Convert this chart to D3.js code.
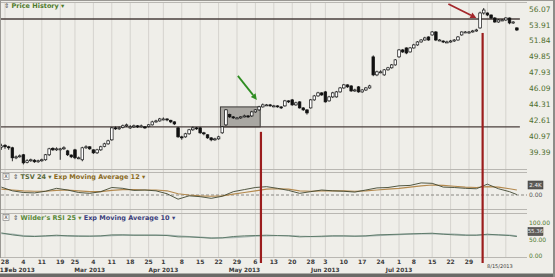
<!DOCTYPE html>
<html>
<head>
<meta charset="utf-8">
<script src="https://cdn.jsdelivr.net/npm/d3@7"></script>
<style>
  body { margin: 0; background: #fff; }
  svg { display: block; font-family: "DejaVu Sans", Verdana, sans-serif; }
</style>
</head>
<body>
<div id="chart"></div>
<script>
const W = 555, H = 277;

// trading calendar
const firstDay = new Date(2013, 0, 25), lastDay = new Date(2013, 7, 15);
const holidays = ["2013-02-18", "2013-03-29", "2013-05-27", "2013-07-04"];

// daily OHLC, Jan 25 .. Aug 15 2013
const open = [39.85,40.05,39.90,39.80,38.83,38.95,39.12,38.40,38.55,38.60,38.45,38.55,38.64,39.12,39.75,39.60,39.60,39.70,39.50,39.10,39.60,38.83,38.64,39.80,39.90,39.60,39.31,39.60,39.95,40.19,40.59,41.81,41.71,41.85,42.02,41.80,41.91,42.02,41.95,41.91,41.95,42.12,42.43,42.53,42.74,42.74,42.60,42.43,41.81,40.89,40.89,41.20,41.61,41.81,41.81,41.30,41.10,40.79,40.59,40.69,41.30,42.12,43.20,42.96,42.85,42.85,42.96,43.06,43.06,43.49,43.71,44.03,44.25,44.25,44.14,44.14,44.03,44.14,44.69,44.80,44.25,44.58,43.92,43.71,43.92,44.80,45.24,45.58,45.69,44.69,45.13,45.13,45.69,46.14,46.49,46.37,45.80,46.26,45.69,45.91,46.14,49.82,47.65,48.01,47.65,48.25,48.49,48.84,49.82,50.68,50.93,50.43,50.93,51.31,51.69,51.94,52.33,52.59,52.98,51.94,51.81,51.69,51.69,51.81,51.94,52.59,52.98,52.85,52.98,53.11,53.51,55.52,55.52,55.25,54.84,54.30,54.57,54.57,54.84,54.17,53.51];
const high = [40.20,40.15,40.00,39.90,39.05,39.15,39.20,38.70,38.75,38.70,38.65,38.75,39.20,39.80,39.85,39.85,39.80,39.95,39.60,39.15,39.70,38.95,39.90,40.05,39.95,39.65,39.70,40.00,40.30,40.60,41.90,41.95,41.95,42.15,42.25,42.10,42.15,42.10,42.15,42.00,42.20,42.55,42.65,42.85,42.90,42.80,42.65,42.50,41.90,41.00,41.30,41.70,41.95,41.90,41.90,41.40,41.15,40.85,40.80,41.00,42.00,43.80,43.30,43.05,42.95,43.05,43.20,43.15,43.60,43.80,44.15,44.40,44.35,44.35,44.25,44.20,44.10,44.80,44.75,44.90,44.60,44.65,44.00,43.75,44.90,45.35,45.70,45.65,45.80,45.25,45.70,45.80,46.25,46.60,46.55,46.45,46.05,46.35,46.00,46.25,46.50,50.00,48.15,48.20,48.35,48.60,48.95,49.55,50.80,50.80,51.00,51.05,51.45,51.80,52.05,52.35,52.40,53.10,53.10,52.05,51.90,51.85,51.95,52.05,52.45,53.05,53.10,53.10,53.25,53.40,55.70,56.21,55.60,55.30,54.95,54.70,54.70,54.95,54.90,54.40,53.60];
const low = [39.60,39.70,39.60,38.50,38.70,38.85,38.20,38.30,38.45,38.35,38.35,38.45,38.55,39.00,39.50,39.50,38.64,39.60,39.00,38.80,38.70,38.70,38.50,39.70,39.60,39.20,39.20,39.50,39.85,40.10,40.50,41.60,41.60,41.75,41.90,41.70,41.80,41.80,41.85,41.70,41.85,42.05,42.35,42.45,42.60,42.50,42.30,42.10,40.80,40.60,40.80,41.10,41.50,41.60,41.20,41.05,40.70,40.45,40.50,40.60,41.20,42.00,42.85,42.75,42.75,42.75,42.90,42.85,42.95,43.40,43.60,43.95,44.15,44.05,44.00,43.95,43.80,44.05,44.45,44.15,44.15,43.85,43.60,43.20,43.85,44.70,45.15,45.25,44.50,44.60,45.00,45.05,45.60,46.05,46.15,45.70,45.70,45.60,45.60,45.80,46.05,47.50,47.50,47.85,47.55,48.15,48.40,48.75,49.70,50.30,50.15,50.35,50.85,51.20,51.60,51.85,51.85,52.50,51.80,51.80,51.55,51.55,51.60,51.70,51.85,52.50,52.85,52.75,52.90,53.00,53.40,55.30,55.10,54.70,54.20,54.20,54.45,54.45,54.00,54.05,53.10];
const close = [39.99,39.90,39.80,38.83,38.92,39.02,38.35,38.55,38.64,38.45,38.55,38.64,39.12,39.70,39.60,39.70,39.70,39.80,39.12,38.92,38.83,38.83,39.80,39.90,39.70,39.31,39.60,39.90,40.19,40.49,41.81,41.71,41.81,42.02,42.12,41.91,42.02,41.91,42.02,41.81,42.12,42.43,42.53,42.74,42.74,42.64,42.43,42.22,40.89,40.79,41.20,41.61,41.81,41.71,41.30,41.20,40.79,40.59,40.69,40.89,41.91,43.71,42.96,42.85,42.85,42.96,43.06,42.96,43.49,43.71,44.03,44.25,44.25,44.14,44.14,44.03,43.92,44.69,44.58,44.25,44.47,43.92,43.71,43.38,44.80,45.24,45.58,45.35,44.58,45.13,45.58,45.69,46.14,46.49,46.26,45.80,45.91,45.69,45.91,46.14,46.37,47.65,48.01,48.01,48.25,48.49,48.84,49.45,50.68,50.43,50.30,50.93,51.31,51.69,51.94,52.20,51.94,52.98,51.94,51.94,51.69,51.69,51.81,51.94,52.33,52.98,52.98,52.98,53.11,53.24,55.52,55.93,55.25,54.84,54.30,54.57,54.57,54.84,54.17,54.30,53.24];

const priceTicks = [56.07, 53.91, 51.84, 49.85, 47.93, 46.09, 44.31, 42.61, 40.97, 39.39];
const levels = [54.71, 41.91];

// indicators, sampled every 3rd trading day (last point = Aug 15)
const tsv    = [1.9,1.0,0.6,0.5,0.9,1.6,1.2,0.6,0.4,0.8,1.8,1.6,1.1,1.2,1.0,0.3,-1.0,-0.2,-0.4,-0.8,-0.3,0.8,1.3,1.8,2.0,1.6,1.1,0.4,0.8,1.2,1.0,0.9,0.7,1.2,1.7,1.8,2.2,2.3,2.9,2.8,1.9,1.8,1.6,1.5,2.6,1.5,0.8,0.1];
const tsvEma = [1.4,1.2,1.0,0.9,0.9,1.1,1.2,1.0,0.8,0.8,1.1,1.3,1.3,1.2,1.2,1.0,0.3,0.0,-0.2,-0.3,-0.2,0.2,0.6,1.0,1.4,1.5,1.4,1.0,0.9,1.0,1.0,1.0,0.9,1.0,1.2,1.4,1.6,1.9,2.2,2.4,2.3,2.1,1.9,1.8,2.0,1.9,1.5,1.2];
const rsi    = [70,64,60,59,61,63,61,60,60,61,64,64,63,63,63,62,58,58,56,54,55,59,61,62,63,62,61,58,59,60,61,61,60,61,64,65,66,67,68,69,66,64,63,63,66,64,62,59];
const rsiEma = [68,66,62,60,60,61,62,61,60,60,62,63,63,63,63,63,61,59,57,55,55,56,58,60,61,62,62,60,59,59,60,60,60,60,62,63,65,66,67,68,67,66,64,63,64,64,63,61];
const rsiTicks = [100, 50, 0];

const fmtISO = d3.timeFormat("%Y-%m-%d");
const days = d3.timeDay.range(firstDay, d3.timeDay.offset(lastDay, 1))
  .filter(d => d.getDay() % 6 !== 0 && !holidays.includes(fmtISO(d)));
const bars = days.map((d, i) => ({ i, d, o: open[i], h: high[i], l: low[i], c: close[i] }));
const last = days.length - 1;
const sampleIdx = d3.range(0, days.length, 3).concat([last]);

const weekTicks = d3.range(1, days.length).filter(i => +d3.timeMonday.floor(days[i]) !== +d3.timeMonday.floor(days[i - 1]));
const monthTicks = d3.range(1, days.length).filter(i => days[i].getMonth() !== days[i - 1].getMonth());

const plotL = 1, plotR = 527;
const pane = { price: [2, 169], tsv: [172, 209], rsi: [213, 257] };

const x = d3.scaleLinear().domain([1, 127]).range([5, 469]);
const y = d3.scaleLog().domain([39.39, 56.07]).range([152, 9]);
const yT = d3.scaleLinear().domain([0, 2.4]).range([195, 185]);
const yR = d3.scaleLinear().domain([0, 100]).range([256, 223]);

const svg = d3.select("#chart").append("svg").attr("width", W).attr("height", H);
svg.append("rect").attr("width", W).attr("height", H).attr("fill", "#efeee9");

const defs = svg.append("defs");
Object.entries(pane).forEach(([k, [t, b]]) => {
  defs.append("clipPath").attr("id", "clip-" + k)
    .append("rect").attr("x", plotL).attr("y", t).attr("width", plotR - plotL).attr("height", b - t);
});

// vertical grid
svg.append("g").selectAll("line").data(weekTicks).join("line")
  .attr("x1", d => x(d)).attr("x2", d => x(d)).attr("y1", 2).attr("y2", 258)
  .attr("stroke", "#d5d3ce").attr("stroke-width", 1);

// pane borders
const borders = svg.append("g").attr("stroke", "#b9b7b2").attr("fill", "none");
Object.values(pane).forEach(([t, b]) => {
  borders.append("line").attr("x1", plotL).attr("x2", plotR).attr("y1", t + 0.5).attr("y2", t + 0.5);
  borders.append("line").attr("x1", plotL).attr("x2", plotR).attr("y1", b + 0.5).attr("y2", b + 0.5);
});
borders.append("line").attr("x1", 0.5).attr("x2", 0.5).attr("y1", 0).attr("y2", 258).attr("stroke", "#9a9893");
borders.append("line").attr("x1", 0).attr("x2", W).attr("y1", 0.5).attr("y2", 0.5).attr("stroke", "#9a9893");

// ---- price pane
const gp = svg.append("g").attr("clip-path", "url(#clip-price)");

// consolidation box
gp.append("rect")
  .attr("x", x(59.5)).attr("y", y(44.03))
  .attr("width", x(70.3) - x(59.5)).attr("height", y(41.91) - y(44.03))
  .attr("fill", "#a9a7a2").attr("stroke", "#3d3b38").attr("stroke-width", 1);

// support / resistance
gp.selectAll("line.lvl").data(levels).join("line").attr("class", "lvl")
  .attr("x1", plotL).attr("x2", x(last) + 3).attr("y1", d => y(d)).attr("y2", d => y(d))
  .attr("stroke", "#4a3f3d").attr("stroke-width", 1.4);

// candles
const cw = 2.6;
const cg = gp.append("g").selectAll("g").data(bars).join("g");
cg.append("line")
  .attr("x1", d => x(d.i)).attr("x2", d => x(d.i))
  .attr("y1", d => y(d.h)).attr("y2", d => y(d.l))
  .attr("stroke", "#1a1a1a").attr("stroke-width", 0.9);
cg.append("rect")
  .attr("x", d => x(d.i) - cw / 2)
  .attr("y", d => y(Math.max(d.o, d.c)))
  .attr("width", cw)
  .attr("height", d => Math.max(1, Math.abs(y(d.o) - y(d.c))))
  .attr("fill", d => d.c < d.o ? "#111" : "#fff")
  .attr("stroke", "#111").attr("stroke-width", 0.7);

// price axis labels
svg.append("g").selectAll("text").data(priceTicks).join("text")
  .attr("x", 529).attr("y", d => y(d)).attr("dy", "0.35em")
  .attr("font-size", 7.5).attr("fill", "#4f6e2f").text(d => d.toFixed(2));

// headers
function header(yy, parts) {
  const t = svg.append("text").attr("x", 4).attr("y", yy).attr("font-size", 6.5);
  parts.forEach(([s, c, w]) => t.append("tspan").text(s).attr("fill", c).attr("font-weight", w || "normal"));
  return t;
}
header(8, [["\u21D5 ", "#555"], ["Price History \u25BE", "#4e7a2a", "bold"]]);

function xBox(yy) {
  svg.append("rect").attr("x", 3).attr("y", yy - 5.5).attr("width", 6).attr("height", 6)
    .attr("fill", "#f7f6f3").attr("stroke", "#777").attr("stroke-width", 0.6);
  svg.append("text").attr("x", 6).attr("y", yy - 0.7).attr("text-anchor", "middle")
    .attr("font-size", 5).attr("fill", "#333").text("X");
}
xBox(pane.tsv[0] + 7);
svg.append("text").attr("x", 13).attr("y", pane.tsv[0] + 7).attr("font-size", 6.5)
  .call(t => {
    t.append("tspan").text("\u21D5 ").attr("fill", "#555");
    t.append("tspan").text("TSV 24 \u25BE  ").attr("fill", "#5b6a3c").attr("font-weight", "bold");
    t.append("tspan").text("Exp Moving Average 12 \u25BE").attr("fill", "#8a6a1e").attr("font-weight", "bold");
  });
xBox(pane.rsi[0] + 7);
svg.append("text").attr("x", 13).attr("y", pane.rsi[0] + 7).attr("font-size", 6.5)
  .call(t => {
    t.append("tspan").text("\u21D5 ").attr("fill", "#555");
    t.append("tspan").text("Wilder's RSI 25 \u25BE  ").attr("fill", "#5a8a3a").attr("font-weight", "bold");
    t.append("tspan").text("Exp Moving Average 10 \u25BE").attr("fill", "#3b3f7d").attr("font-weight", "bold");
  });

// ---- TSV pane
const gt = svg.append("g").attr("clip-path", "url(#clip-tsv)");
gt.append("line").attr("x1", plotL).attr("x2", plotR).attr("y1", yT(0)).attr("y2", yT(0))
  .attr("stroke", "#8a8883").attr("stroke-dasharray", "3,2");
const lineT = d3.line().x((d, k) => x(sampleIdx[k])).y(d => yT(d));
gt.append("path").datum(tsvEma).attr("d", lineT).attr("fill", "none").attr("stroke", "#b48a4f").attr("stroke-width", 1.1);
gt.append("path").datum(tsv).attr("d", lineT).attr("fill", "none").attr("stroke", "#3f4630").attr("stroke-width", 0.9);

function valueBox(yy, txt) {
  svg.append("rect").attr("x", 528).attr("y", yy - 4).attr("width", 15).attr("height", 8)
    .attr("fill", "#5e5c58").attr("stroke", "#333").attr("stroke-width", 0.5);
  svg.append("text").attr("x", 535.5).attr("y", yy).attr("dy", "0.35em").attr("text-anchor", "middle")
    .attr("font-size", 5.5).attr("fill", "#f0f0f0").text(txt);
}
valueBox(yT(2.4), "2.4K");
svg.append("text").attr("x", 529).attr("y", yT(0)).attr("dy", "0.35em")
  .attr("font-size", 6).attr("fill", "#555").text("0.00");

// ---- RSI pane
const gr = svg.append("g").attr("clip-path", "url(#clip-rsi)");
const lineR = d3.line().x((d, k) => x(sampleIdx[k])).y(d => yR(d));
gr.append("path").datum(rsiEma).attr("d", lineR).attr("fill", "none").attr("stroke", "#a7b6b1").attr("stroke-width", 1.3);
gr.append("path").datum(rsi).attr("d", lineR).attr("fill", "none").attr("stroke", "#5f7b6b").attr("stroke-width", 1);
svg.append("g").selectAll("text").data(rsiTicks).join("text")
  .attr("x", 529).attr("y", d => yR(d)).attr("dy", "0.35em")
  .attr("font-size", 6).attr("fill", "#4f7a2f").text(d => d.toFixed(2));
valueBox(yR(rsi[rsi.length - 1]) - 5, "55.36");

// ---- annotations
svg.append("line").attr("x1", x(70.5)).attr("x2", x(70.5)).attr("y1", y(41.40)).attr("y2", 263)
  .attr("stroke", "#9b1d1d").attr("stroke-width", 2.2);
svg.append("line").attr("x1", x(130.7)).attr("x2", x(130.7)).attr("y1", y(52.85)).attr("y2", 263)
  .attr("stroke", "#9b1d1d").attr("stroke-width", 2.2);

function arrow(tipX, tipY, dx, dy, color) {
  const len = Math.hypot(dx, dy), ux = dx / len, uy = dy / len;
  const bx = tipX - ux * 6, by = tipY - uy * 6;
  svg.append("line").attr("x1", tipX - dx).attr("y1", tipY - dy).attr("x2", bx).attr("y2", by)
    .attr("stroke", color).attr("stroke-width", 1.8);
  svg.append("path")
    .attr("d", `M${tipX},${tipY}L${bx - uy * 3},${by + ux * 3}L${bx + uy * 3},${by - ux * 3}Z`)
    .attr("fill", color);
}
arrow(x(129), y(54.84), 28, 14, "#a3262a");
arrow(x(69.4), y(44.80), 19, 24, "#2f8d22");

// ---- time axis
const endX = x(last) - 17;
const fmtDay = d3.timeFormat("%-d"), fmtMon = d3.timeFormat("%b %Y");
svg.append("g").selectAll("text").data(weekTicks.filter(i => Math.abs(x(i) - endX) > 24)).join("text")
  .attr("x", d => x(d)).attr("y", 264).attr("text-anchor", "middle")
  .attr("font-size", 6).attr("font-weight", "bold").attr("fill", "#3a3a3a").text(d => fmtDay(days[d]));
svg.append("g").selectAll("text").data(monthTicks.filter(i => Math.abs(x(i) - endX) > 24)).join("text")
  .attr("x", d => x(d)).attr("y", 271.5).attr("text-anchor", "middle")
  .attr("font-size", 5.8).attr("font-weight", "bold").attr("fill", "#3a3a3a").text(d => fmtMon(days[d]));
svg.append("text").attr("x", x(1.8)).attr("y", 271.5).attr("text-anchor", "end")
  .attr("font-size", 5.8).attr("font-weight", "bold").attr("fill", "#3a3a3a").text("Jan 2013");
svg.append("text").attr("x", endX).attr("y", 268).attr("text-anchor", "middle")
  .attr("font-size", 5).attr("fill", "#3a3a3a").text(d3.timeFormat("%-m/%-d/%Y")(days[last]));

// frame shadow
svg.append("rect").attr("x", 0).attr("y", 273.5).attr("width", W).attr("height", 3.5).attr("fill", "#6b6a67");
svg.append("rect").attr("x", W - 2).attr("y", 0).attr("width", 2).attr("height", H).attr("fill", "#8d8c88");
</script>
</body>
</html>
